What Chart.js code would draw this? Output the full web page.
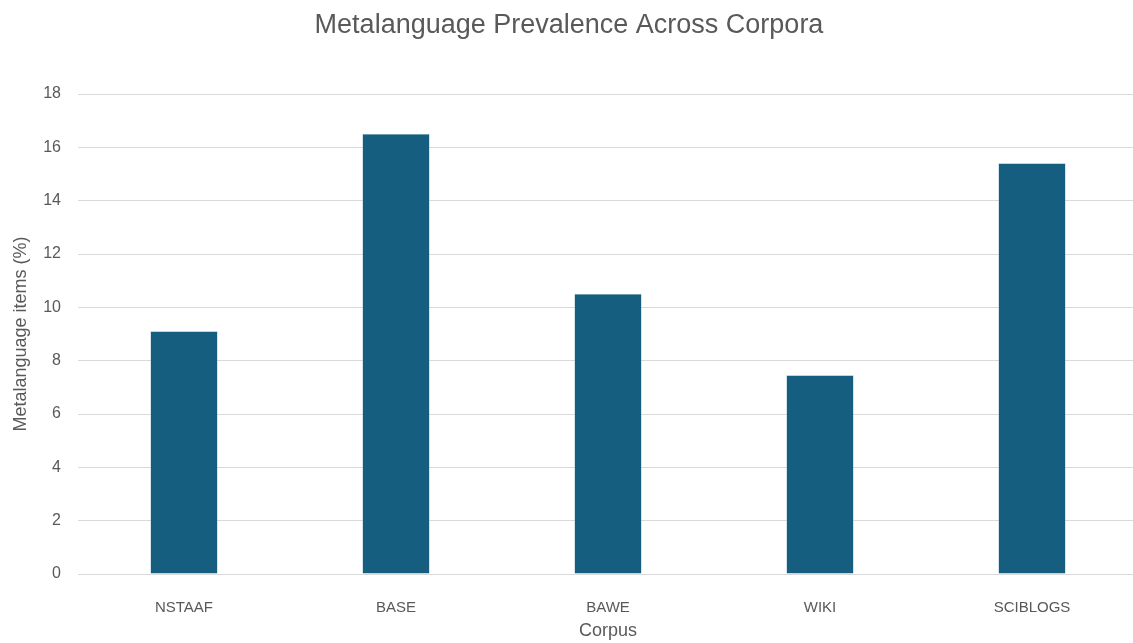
<!DOCTYPE html>
<html>
<head>
<meta charset="utf-8">
<script src="https://cdn.jsdelivr.net/npm/chart.js@4"></script>
<style>
  html, body { margin: 0; padding: 0; background: #fff; overflow: hidden; }
  #wrap { width: 1138px; height: 643px; }
</style>
</head>
<body>
<div id="wrap"><canvas id="prevalence"></canvas></div>
<script>
// data
const corpora = ['NSTAAF', 'BASE', 'BAWE', 'WIKI', 'SCIBLOGS'];
const metalanguagePct = [9.1, 16.5, 10.5, 7.45, 15.4];
const yTicks = [0, 2, 4, 6, 8, 10, 12, 14, 16, 18];

const textGrey = '#595959';
const gridGrey = '#d9d9d9';
Chart.defaults.font.family = "'Liberation Sans', Arial, sans-serif";
Chart.defaults.color = textGrey;

const chart = new Chart('prevalence', {
    type: 'bar',
    data: {
        labels: corpora,
        datasets: [{
            label: 'Metalanguage items (%)',
            data: metalanguagePct,
            backgroundColor: '#165e80',
            borderColor: '#8fb3c6',
            borderWidth: 0.6,
            categoryPercentage: 1,
            barPercentage: 0.317
        }]
    },
    options: {
        responsive: true,
        maintainAspectRatio: false,
        animation: false,
        layout: { padding: 0 },
        plugins: {
            legend: { display: false },
            tooltip: { enabled: false },
            title: {
                display: true,
                text: 'Metalanguage Prevalence Across Corpora',
                color: textGrey,
                font: { size: 27, weight: 'normal', lineHeight: 1.2 },
                padding: { top: 9, bottom: 52.6 }
            }
        },
        scales: {
            x: {
                grid: { display: false },
                border: { display: true, color: gridGrey, width: 1 },
                ticks: { font: { size: 15 }, padding: 17 },
                title: {
                    display: true,
                    text: 'Corpus',
                    font: { size: 18 },
                    padding: { top: 0, bottom: 1 }
                },
                afterFit: function (scale) { scale.height = 69; }
            },
            y: {
                min: 0,
                max: 18,
                afterBuildTicks: function (scale) {
                    scale.ticks = yTicks.map(v => ({ value: v }));
                },
                grid: { color: gridGrey, drawTicks: false },
                border: { display: false },
                ticks: { font: { size: 16 }, padding: 17 },
                title: {
                    display: true,
                    text: 'Metalanguage items (%)',
                    font: { size: 18 },
                    padding: { top: 10, bottom: 0 }
                },
                afterFit: function (scale) { scale.width = 78; }
            }
        }
    }
});
</script>
</body>
</html>
